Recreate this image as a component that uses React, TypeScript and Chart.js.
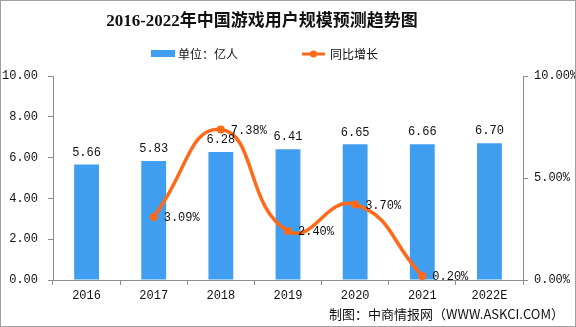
import React, { useEffect, useRef } from "react";
import { Chart, registerables } from "chart.js";

Chart.register(...registerables);

const TITLE = "2016-2022年中国游戏用户规模预测趋势图";
const SOURCE = "制图：中商情报网（WWW.ASKCI.COM）";
const categories = ["2016", "2017", "2018", "2019", "2020", "2021", "2022E"];
const users = [5.66, 5.83, 6.28, 6.41, 6.65, 6.66, 6.7];
const growth = [null, 3.09, 7.38, 2.4, 3.7, 0.2, null];
const barLabel = "单位：亿人";
const lineLabel = "同比增长";

const BAR_COLOR = "#409EF0";
const LINE_COLOR = "#FF6A1A";
const AXIS_COLOR = "#8c8c8c";
const MONO = "'Liberation Mono', 'Noto Sans CJK SC', monospace";
const CJK = "'Noto Sans CJK SC', sans-serif";

const decorPlugin = {
  id: "decor",
  afterDraw(chart: any) {
    const ctx = chart.ctx;
    ctx.save();
    // border
    ctx.strokeStyle = "#a0a0a0";
    ctx.lineWidth = 1;
    ctx.strokeRect(0.5, 0.5, chart.width - 1, chart.height - 1);
    // title
    ctx.fillStyle = "#111";
    ctx.textAlign = "center";
    ctx.textBaseline = "middle";
    ctx.font = "bold 17px 'Liberation Serif', 'Noto Sans CJK SC', serif";
    ctx.fillText(TITLE, 262, 22);
    // legend
    ctx.fillStyle = BAR_COLOR;
    ctx.fillRect(151, 50, 24, 7);
    ctx.fillStyle = "#111";
    ctx.textAlign = "left";
    ctx.font = "12px " + CJK;
    ctx.fillText(barLabel, 178, 54);
    ctx.strokeStyle = LINE_COLOR;
    ctx.lineWidth = 3;
    ctx.beginPath();
    ctx.moveTo(302, 54);
    ctx.lineTo(325, 54);
    ctx.stroke();
    ctx.fillStyle = LINE_COLOR;
    ctx.beginPath();
    ctx.arc(313.5, 54, 3.5, 0, Math.PI * 2);
    ctx.fill();
    ctx.fillStyle = "#111";
    ctx.fillText(lineLabel, 330, 54);
    // source
    ctx.textAlign = "right";
    ctx.font = "13px " + CJK;
    ctx.fillText(SOURCE, 564, 314);
    // data labels
    ctx.font = "12px " + MONO;
    ctx.fillStyle = "#111";
    const barMeta = chart.getDatasetMeta(0);
    barMeta.data.forEach((el: any, i: number) => {
      ctx.textAlign = "center";
      ctx.textBaseline = "bottom";
      ctx.fillText(users[i].toFixed(2), el.x, el.y - 6);
    });
    const lineMeta = chart.getDatasetMeta(1);
    lineMeta.data.forEach((el: any, i: number) => {
      const v = growth[i];
      if (v == null) return;
      ctx.textAlign = "left";
      ctx.textBaseline = "middle";
      ctx.fillText(v.toFixed(2) + "%", el.x + 10, el.y + 1);
    });
    ctx.restore();
  },
};

export default function App() {
  const ref = useRef<HTMLCanvasElement | null>(null);
  useEffect(() => {
    document.body.style.margin = "0";
    const chart = new Chart(ref.current as HTMLCanvasElement, {
      type: "bar",
      data: {
        labels: categories,
        datasets: [
          {
            type: "bar",
            label: barLabel,
            data: users,
            backgroundColor: BAR_COLOR,
            yAxisID: "y",
            barPercentage: 0.37,
            categoryPercentage: 1,
            order: 2,
          },
          {
            type: "line",
            label: lineLabel,
            data: growth as any,
            borderColor: LINE_COLOR,
            backgroundColor: LINE_COLOR,
            borderWidth: 3.5,
            pointRadius: 4,
            pointBackgroundColor: LINE_COLOR,
            pointBorderWidth: 0,
            tension: 0.5,
            spanGaps: false,
            yAxisID: "y1",
            order: 1,
          },
        ],
      },
      options: {
        responsive: false,
        animation: false,
        layout: { padding: { top: 76, left: 0, right: 0, bottom: 0 } },
        plugins: {
          legend: { display: false },
          title: { display: false },
          tooltip: { enabled: false },
        },
        scales: {
          x: {
            grid: {
              offset: true,
              drawOnChartArea: false,
              drawTicks: true,
              tickLength: 5,
              color: AXIS_COLOR,
            },
            border: { color: AXIS_COLOR, width: 1 },
            ticks: {
              color: "#111",
              font: { family: MONO, size: 12 },
              padding: 4,
              maxRotation: 0,
            },
            afterFit: (s: any) => {
              s.height = 47;
            },
          },
          y: {
            position: "left",
            min: 0,
            max: 10,
            ticks: {
              stepSize: 2,
              color: "#111",
              font: { family: MONO, size: 12 },
              padding: 10,
              callback: (v: any) => Number(v).toFixed(2),
            },
            grid: {
              drawOnChartArea: false,
              drawTicks: true,
              tickLength: 5,
              color: AXIS_COLOR,
            },
            border: { color: AXIS_COLOR, width: 1 },
            afterFit: (s: any) => {
              s.width = 53;
            },
          },
          y1: {
            position: "right",
            min: 0,
            max: 10,
            ticks: {
              stepSize: 5,
              color: "#111",
              font: { family: MONO, size: 12 },
              padding: 6,
              callback: (v: any) => Number(v).toFixed(2) + "%",
            },
            grid: {
              drawOnChartArea: false,
              drawTicks: true,
              tickLength: 5,
              color: AXIS_COLOR,
            },
            border: { color: AXIS_COLOR, width: 1 },
            afterFit: (s: any) => {
              s.width = 53;
            },
          },
        },
      },
      plugins: [decorPlugin],
    } as any);
    return () => chart.destroy();
  }, []);
  return (
    <div style={{ position: "absolute", left: 0, top: 0, width: 576, height: 327, background: "#fff" }}>
      <canvas ref={ref} width={576} height={327} style={{ width: 576, height: 327, display: "block" }} />
    </div>
  );
}
